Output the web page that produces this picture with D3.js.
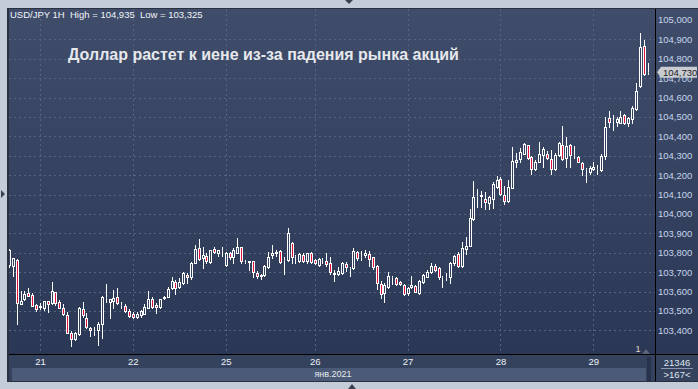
<!DOCTYPE html>
<html>
<head>
<meta charset="utf-8">
<script src="https://cdn.jsdelivr.net/npm/d3@7"></script>
<style>
  body { margin: 0; background: #c4ccd8; }
  svg { display: block; font-family: "Liberation Sans", Arial, sans-serif; }
</style>
</head>
<body>
<svg width="698" height="389"></svg>
<script>
// USD/JPY 1H candles, Jan 20 16:00 .. Jan 29
const opens = [
  103.735, 103.733, 103.763, 103.534, 103.560, 103.591, 103.582, 103.529, 103.520, 103.513,
  103.549, 103.543, 103.596, 103.544, 103.515, 103.479, 103.385, 103.357, 103.380, 103.508,
  103.465, 103.410, 103.396, 103.402, 103.431, 103.570, 103.548, 103.551, 103.574, 103.530,
  103.527, 103.501, 103.484, 103.467, 103.479, 103.486, 103.517, 103.562, 103.532, 103.522,
  103.565, 103.574, 103.617, 103.647, 103.621, 103.642, 103.687, 103.673, 103.749, 103.822,
  103.774, 103.783, 103.754, 103.817, 103.800, 103.812, 103.737, 103.797, 103.776, 103.800,
  103.828, 103.754, 103.753, 103.755, 103.697, 103.684, 103.685, 103.725, 103.788, 103.800,
  103.810, 103.760, 103.762, 103.848, 103.783, 103.757, 103.788, 103.757, 103.797, 103.762,
  103.737, 103.762, 103.757, 103.745, 103.692, 103.691, 103.694, 103.742, 103.720, 103.722,
  103.806, 103.776, 103.789, 103.794, 103.777, 103.732, 103.639, 103.591, 103.622, 103.675,
  103.668, 103.649, 103.636, 103.591, 103.622, 103.627, 103.591, 103.648, 103.677, 103.699,
  103.734, 103.720, 103.673, 103.675, 103.673, 103.746, 103.794, 103.734, 103.820, 103.837,
  103.974, 104.094, 104.090, 104.077, 104.055, 104.076, 104.141, 104.179, 104.096, 104.067,
  104.136, 104.265, 104.282, 104.311, 104.354, 104.294, 104.234, 104.270, 104.302, 104.311,
  104.282, 104.230, 104.303, 104.354, 104.287, 104.354, 104.302, 104.294, 104.261, 104.234,
  104.217, 104.230, 104.230, 104.227, 104.299, 104.493, 104.485, 104.474, 104.471, 104.509,
  104.471, 104.488, 104.540, 104.660, 104.866, 104.729
]
const highs = [
  103.819, 103.775, 103.765, 103.603, 103.604, 103.620, 103.591, 103.533, 103.542, 103.550,
  103.551, 103.649, 103.598, 103.556, 103.534, 103.493, 103.397, 103.390, 103.520, 103.544,
  103.491, 103.419, 103.419, 103.445, 103.579, 103.637, 103.562, 103.608, 103.617, 103.547,
  103.534, 103.510, 103.493, 103.493, 103.503, 103.534, 103.603, 103.572, 103.543, 103.562,
  103.577, 103.623, 103.676, 103.659, 103.672, 103.702, 103.694, 103.754, 103.840, 103.869,
  103.831, 103.797, 103.814, 103.828, 103.814, 103.828, 103.805, 103.805, 103.822, 103.874,
  103.831, 103.762, 103.757, 103.759, 103.707, 103.690, 103.735, 103.805, 103.840, 103.814,
  103.814, 103.780, 103.926, 103.857, 103.788, 103.797, 103.797, 103.800, 103.805, 103.766,
  103.774, 103.771, 103.797, 103.780, 103.711, 103.725, 103.751, 103.751, 103.728, 103.823,
  103.811, 103.811, 103.814, 103.811, 103.780, 103.737, 103.653, 103.643, 103.699, 103.682,
  103.673, 103.656, 103.639, 103.622, 103.682, 103.636, 103.660, 103.691, 103.711, 103.747,
  103.742, 103.728, 103.682, 103.696, 103.751, 103.790, 103.802, 103.857, 103.880, 104.026,
  104.172, 104.129, 104.117, 104.112, 104.090, 104.162, 104.196, 104.191, 104.144, 104.175,
  104.346, 104.316, 104.339, 104.363, 104.356, 104.299, 104.277, 104.371, 104.345, 104.325,
  104.328, 104.316, 104.371, 104.454, 104.394, 104.359, 104.351, 104.299, 104.265, 104.239,
  104.247, 104.265, 104.253, 104.311, 104.497, 104.531, 104.510, 104.497, 104.528, 104.514,
  104.500, 104.557, 104.677, 104.935, 104.897, 104.780
]
const lows = [
  103.728, 103.682, 103.431, 103.534, 103.556, 103.575, 103.524, 103.500, 103.510, 103.505,
  103.496, 103.536, 103.531, 103.513, 103.479, 103.388, 103.321, 103.350, 103.376, 103.471,
  103.414, 103.369, 103.376, 103.325, 103.362, 103.548, 103.462, 103.517, 103.535, 103.513,
  103.493, 103.466, 103.462, 103.464, 103.471, 103.483, 103.514, 103.517, 103.489, 103.517,
  103.562, 103.574, 103.611, 103.588, 103.617, 103.639, 103.642, 103.666, 103.749, 103.762,
  103.723, 103.745, 103.749, 103.797, 103.785, 103.783, 103.733, 103.766, 103.745, 103.797,
  103.745, 103.745, 103.711, 103.673, 103.668, 103.663, 103.682, 103.719, 103.771, 103.783,
  103.749, 103.690, 103.757, 103.749, 103.745, 103.750, 103.750, 103.745, 103.749, 103.742,
  103.731, 103.745, 103.731, 103.691, 103.656, 103.683, 103.691, 103.708, 103.682, 103.717,
  103.760, 103.763, 103.777, 103.734, 103.716, 103.613, 103.567, 103.545, 103.619, 103.639,
  103.636, 103.636, 103.584, 103.584, 103.619, 103.595, 103.588, 103.643, 103.674, 103.694,
  103.705, 103.665, 103.622, 103.660, 103.642, 103.739, 103.728, 103.728, 103.794, 103.833,
  103.966, 104.034, 104.038, 104.026, 104.026, 104.028, 104.136, 104.098, 104.053, 104.059,
  104.136, 104.242, 104.265, 104.308, 104.282, 104.205, 104.225, 104.265, 104.244, 104.282,
  104.208, 104.225, 104.299, 104.277, 104.244, 104.244, 104.290, 104.265, 104.201, 104.167,
  104.208, 104.225, 104.208, 104.222, 104.282, 104.449, 104.431, 104.454, 104.466, 104.462,
  104.454, 104.471, 104.535, 104.655, 104.717, 104.720
]
const closes = [
  103.815, 103.771, 103.539, 103.551, 103.587, 103.575, 103.524, 103.508, 103.523, 103.550,
  103.537, 103.603, 103.539, 103.517, 103.482, 103.388, 103.354, 103.385, 103.517, 103.477,
  103.417, 103.400, 103.398, 103.434, 103.570, 103.572, 103.562, 103.568, 103.539, 103.528,
  103.500, 103.476, 103.467, 103.486, 103.498, 103.519, 103.563, 103.520, 103.519, 103.562,
  103.573, 103.611, 103.654, 103.620, 103.649, 103.697, 103.673, 103.749, 103.817, 103.767,
  103.788, 103.759, 103.814, 103.804, 103.814, 103.814, 103.797, 103.776, 103.814, 103.831,
  103.759, 103.754, 103.755, 103.702, 103.680, 103.680, 103.731, 103.779, 103.800, 103.804,
  103.752, 103.760, 103.900, 103.776, 103.783, 103.792, 103.757, 103.797, 103.754, 103.745,
  103.768, 103.762, 103.742, 103.698, 103.694, 103.708, 103.747, 103.725, 103.722, 103.811,
  103.773, 103.778, 103.799, 103.768, 103.725, 103.643, 103.588, 103.636, 103.682, 103.673,
  103.639, 103.639, 103.588, 103.617, 103.631, 103.600, 103.656, 103.686, 103.699, 103.730,
  103.711, 103.673, 103.675, 103.673, 103.746, 103.785, 103.730, 103.825, 103.837, 103.979,
  104.089, 104.094, 104.098, 104.060, 104.086, 104.153, 104.174, 104.102, 104.067, 104.139,
  104.273, 104.277, 104.320, 104.359, 104.290, 104.230, 104.268, 104.308, 104.337, 104.287,
  104.234, 104.303, 104.364, 104.282, 104.351, 104.304, 104.302, 104.270, 104.230, 104.234,
  104.239, 104.242, 104.230, 104.299, 104.450, 104.476, 104.485, 104.488, 104.502, 104.468,
  104.492, 104.548, 104.634, 104.858, 104.720, 104.730
]

// first candle of each day and its label
const dayStarts = [8, 32, 56, 79, 103, 127, 151]
const dayLabels = ["21", "22", "25", "26", "27", "28", "29"]
const priceTicks = d3.range(103.4, 105.0001, 0.1).map((d) => +d.toFixed(1))
const gridTicks = priceTicks.filter((d) => d < 104.95)

const header = "USD/JPY 1H  High = 104,935  Low = 103,325"
const title = "Доллар растет к иене из-за падения рынка акций"
const lastPrice = 104.73
const monthLabel = "янв.2021"
const barsInfo = ["21346", ">167<"]

const svg = d3.select("svg")
const width = +svg.attr("width")
const height = +svg.attr("height")

const plot = { left: 9, top: 9, right: 655, bottom: 354 }
const step = 3.87

const data = opens.map((o, i) => ({ i, o, h: highs[i], l: lows[i], c: closes[i] }))

const xScale = d3
  .scaleLinear()
  .domain([0, data.length - 1])
  .range([plot.left, plot.left + step * (data.length - 1)])
const yScale = d3.scaleLinear().domain([103.4, 105.0]).range([330.3, 19.9])

const fmt = (d) => d3.format(".3f")(d).replace(".", ",")
const px = (v) => Math.round(v) + 0.5

const defs = svg.append("defs")
const grad = defs
  .append("linearGradient")
  .attr("id", "bg")
  .attr("x1", 0).attr("y1", 0).attr("x2", 0).attr("y2", 1)
grad.append("stop").attr("offset", "0%").attr("stop-color", "#3f4d6b")
grad.append("stop").attr("offset", "100%").attr("stop-color", "#2b3855")
defs
  .append("clipPath")
  .attr("id", "plotClip")
  .append("rect")
  .attr("x", plot.left)
  .attr("y", plot.top)
  .attr("width", plot.right - plot.left)
  .attr("height", plot.bottom - plot.top)

// window frame
svg.append("rect").attr("width", width).attr("height", height).attr("fill", "#c4ccd8")
svg.append("rect").attr("x", 7).attr("y", 8).attr("width", width - 7).attr("height", 374).attr("fill", "#2a3040")
svg.append("rect").attr("x", plot.left).attr("y", plot.top).attr("width", width - plot.left).attr("height", plot.bottom - plot.top).attr("fill", "url(#bg)")
svg.append("rect").attr("x", plot.left).attr("y", 355).attr("width", width - plot.left).attr("height", 26).attr("fill", "#34425e")
svg.append("rect").attr("x", 12).attr("y", 368).attr("width", 634).attr("height", 13).attr("fill", "#4b5a76")
svg.append("rect").attr("x", 647).attr("y", 357).attr("width", 4).attr("height", 24).attr("fill", "#28324a")

// little scroll arrows of the frame
svg.append("path").attr("d", "M345,0 L353,0 L349,4 Z").attr("fill", "#3a4252")
svg.append("path").attr("d", "M1,190 L5,194 L1,198 Z").attr("fill", "#3a4252")
svg.append("path").attr("d", "M348,389 L352,384 L356,389 Z").attr("fill", "#3a4252")

// grid
const grid = svg.append("g").attr("stroke", "#56657f").attr("stroke-dasharray", "2,3")
grid
  .selectAll("line.h")
  .data(gridTicks)
  .join("line")
  .attr("class", "h")
  .attr("x1", plot.left)
  .attr("x2", plot.right)
  .attr("y1", (d) => px(yScale(d)))
  .attr("y2", (d) => px(yScale(d)))
grid
  .selectAll("line.v")
  .data(dayStarts)
  .join("line")
  .attr("class", "v")
  .attr("x1", (d) => px(xScale(d)))
  .attr("x2", (d) => px(xScale(d)))
  .attr("y1", plot.top)
  .attr("y2", plot.bottom)

// candles
const candles = svg.append("g").attr("clip-path", "url(#plotClip)")
const cg = candles.selectAll("g").data(data).join("g")
cg.each(function (d) {
  const g = d3.select(this)
  const cx = px(xScale(d.i))
  const top = px(yScale(Math.max(d.o, d.c)))
  const bot = px(yScale(Math.min(d.o, d.c)))
  g.append("line")
    .attr("x1", cx).attr("x2", cx)
    .attr("y1", Math.round(yScale(d.h))).attr("y2", top)
    .attr("stroke", "#ffffff")
  g.append("line")
    .attr("x1", cx).attr("x2", cx)
    .attr("y1", bot).attr("y2", Math.round(yScale(d.l)) + 1)
    .attr("stroke", "#ffffff")
  g.append("rect")
    .attr("x", cx - 1)
    .attr("y", top)
    .attr("width", 2)
    .attr("height", bot - top)
    .attr("fill", d.c < d.o ? "#e0103c" : "#33415e")
    .attr("stroke", "#ffffff")
})

// separators
svg.append("line").attr("x1", 655.5).attr("x2", 655.5).attr("y1", plot.top).attr("y2", 381).attr("stroke", "#000")
svg.append("line").attr("x1", plot.left).attr("x2", width).attr("y1", 354.5).attr("y2", 354.5).attr("stroke", "#000")

// right price axis
const yAxis = d3.axisRight(yScale).tickValues(priceTicks).tickSize(0).tickPadding(3).tickFormat(fmt)
const yAxisG = svg.append("g").attr("transform", "translate(655,0)").call(yAxis)
yAxisG.select(".domain").remove()
yAxisG
  .selectAll("text")
  .attr("fill", "#c6d4ec")
  .attr("font-size", 9.5)
  .attr("font-family", "'Liberation Sans', Arial, sans-serif")

// last price tag
const ly = yScale(lastPrice)
svg
  .append("path")
  .attr("d", `M657,${ly} L661,${ly - 5.5} L697,${ly - 5.5} L697,${ly + 5.5} L661,${ly + 5.5} Z`)
  .attr("fill", "#c9cdd2")
svg
  .append("text")
  .attr("x", 663)
  .attr("y", ly)
  .attr("dy", "0.35em")
  .attr("font-size", 9.5)
  .attr("fill", "#1c1c1c")
  .text(fmt(lastPrice))

// bottom time axis
const xAxis = d3.axisBottom(xScale).tickValues(dayStarts).tickSize(0).tickPadding(3).tickFormat((d, i) => dayLabels[i])
const xAxisG = svg.append("g").attr("transform", "translate(0,355)").call(xAxis)
xAxisG.select(".domain").remove()
xAxisG
  .selectAll("text")
  .attr("fill", "#eef1f6")
  .attr("font-size", 9.5)
  .attr("font-family", "'Liberation Sans', Arial, sans-serif")

svg.append("text").attr("x", 333).attr("y", 377).attr("text-anchor", "middle").attr("font-size", 9).attr("fill", "#e6e9ef").text(monthLabel)

// bars info box
svg.append("text").attr("x", 677).attr("y", 366).attr("text-anchor", "middle").attr("font-size", 9.5).attr("fill", "#dfe5ee").text(barsInfo[0])
svg.append("line").attr("x1", 661).attr("x2", 693).attr("y1", 368.5).attr("y2", 368.5).attr("stroke", "#8c98ad")
svg.append("text").attr("x", 677).attr("y", 378).attr("text-anchor", "middle").attr("font-size", 9.5).attr("fill", "#dfe5ee").text(barsInfo[1])

// window marker
svg.append("text").attr("x", 638).attr("y", 352).attr("text-anchor", "middle").attr("font-size", 9).attr("fill", "#e2d8c8").text("1")
svg.append("path").attr("d", "M642,354 L646,349 L650,354 Z").attr("fill", "#5a6478")

// header and title
svg.append("text").attr("x", 10).attr("y", 18).attr("font-size", 9.5).attr("fill", "#f2f4f8").attr("xml:space", "preserve").style("white-space", "pre").text(header)
svg.append("text").attr("x", 68).attr("y", 59.5).attr("font-size", 16).attr("font-weight", "bold").attr("fill", "#e6e8ec").text(title)
</script>
</body>
</html>
